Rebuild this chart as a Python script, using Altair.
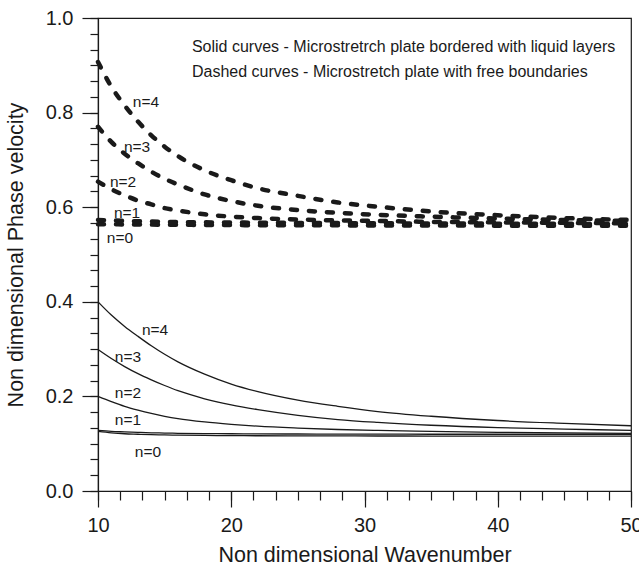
import altair as alt
import pandas as pd

# ---------------- data ----------------
wavenumber = [10, 11, 12, 13, 14, 15, 16, 18, 20, 22, 25, 28, 31, 35, 40, 45, 50]

# Dashed curves (free boundaries)
dashed_n0 = [0.564, 0.5638, 0.5636, 0.5634, 0.5632, 0.563, 0.5628, 0.5625, 0.5622, 0.562, 0.5618, 0.5616, 0.5614, 0.5612, 0.561, 0.5608, 0.5606]
dashed_n1 = [0.573, 0.572, 0.571, 0.5703, 0.5697, 0.569, 0.5686, 0.568, 0.5676, 0.5672, 0.5668, 0.5664, 0.566, 0.5656, 0.5652, 0.5648, 0.5644]
dashed_n2 = [0.654, 0.638, 0.625, 0.614, 0.606, 0.598, 0.593, 0.585, 0.580, 0.577, 0.574, 0.572, 0.571, 0.569, 0.568, 0.567, 0.566]
dashed_n3 = [0.770, 0.738, 0.713, 0.693, 0.675, 0.660, 0.648, 0.627, 0.613, 0.603, 0.594, 0.588, 0.584, 0.580, 0.576, 0.573, 0.571]
dashed_n4 = [0.907, 0.855, 0.815, 0.781, 0.752, 0.728, 0.708, 0.678, 0.657, 0.640, 0.624, 0.610, 0.601, 0.591, 0.583, 0.577, 0.573]

# Solid curves (bordered with liquid layers)
solid_n0 = [0.126, 0.123, 0.121, 0.120, 0.119, 0.1185, 0.118, 0.1175, 0.117, 0.1168, 0.1166, 0.1164, 0.1163, 0.1162, 0.1161, 0.116, 0.116]
solid_n1 = [0.128, 0.126, 0.125, 0.124, 0.123, 0.1225, 0.122, 0.1215, 0.121, 0.1207, 0.1205, 0.1203, 0.1202, 0.120, 0.120, 0.120, 0.120]
solid_n2 = [0.200, 0.189, 0.179, 0.171, 0.164, 0.158, 0.153, 0.146, 0.141, 0.137, 0.133, 0.130, 0.128, 0.126, 0.124, 0.123, 0.122]
solid_n3 = [0.299, 0.280, 0.263, 0.248, 0.235, 0.223, 0.212, 0.195, 0.182, 0.172, 0.160, 0.151, 0.145, 0.139, 0.134, 0.131, 0.128]
solid_n4 = [0.400, 0.372, 0.348, 0.327, 0.307, 0.289, 0.273, 0.247, 0.226, 0.210, 0.192, 0.179, 0.168, 0.158, 0.149, 0.143, 0.138]

mode_names = ["n=0", "n=1", "n=2", "n=3", "n=4"]

# curve labels
dashed_label_x = [11.65, 12.18, 11.88, 12.93, 13.6]
dashed_label_y = [0.535, 0.588, 0.653, 0.727, 0.822]
solid_label_x = [13.75, 12.25, 12.25, 12.25, 14.28]
solid_label_y = [0.082, 0.150, 0.207, 0.283, 0.340]

note_lines = [
    "Solid curves - Microstretrch plate bordered with liquid layers",
    "Dashed curves - Microstretch plate with free boundaries",
]
note_x = [17.05, 17.05]
note_y = [0.939, 0.886]

x_major = [10, 20, 30, 40, 50]
x_minor = [10 + i * 10 / 6 for i in range(25)]
y_major = [0.0, 0.2, 0.4, 0.6, 0.8, 1.0]
y_minor = [i / 30 for i in range(31)]

# ---------------- tables ----------------
def long_table(series):
    rows = []
    for name, vals in zip(mode_names, series):
        for k, v in zip(wavenumber, vals):
            rows.append({"k": k, "c": v, "n": name})
    return pd.DataFrame(rows)

dashed_df = long_table([dashed_n0, dashed_n1, dashed_n2, dashed_n3, dashed_n4])
solid_df = long_table([solid_n0, solid_n1, solid_n2, solid_n3, solid_n4])
labels_df = pd.DataFrame({
    "x": dashed_label_x + solid_label_x,
    "y": dashed_label_y + solid_label_y,
    "t": mode_names + mode_names,
})
note_df = pd.DataFrame({"x": note_x, "y": note_y, "t": note_lines})

FONT = "Liberation Sans"
INK = "#1a1a1a"
xs = alt.Scale(domain=[10, 50], nice=False, zero=False)
ys = alt.Scale(domain=[0, 1], nice=False, zero=False)

major_x_axis = alt.Axis(values=x_major, format="d", tickSize=16, labelPadding=8,
                        labelFontSize=20, titleFontSize=21.5, titlePadding=9,
                        labelFlush=False,
                        title="Non dimensional Wavenumber", grid=False, orient="bottom")
major_y_axis = alt.Axis(values=y_major, format=".1f", tickSize=16, labelPadding=9,
                        labelFontSize=20, titleFontSize=21.5, titlePadding=18,
                        labelFlush=False,
                        title="Non dimensional Phase velocity", grid=False, orient="left")
minor_x_axis = alt.Axis(values=x_minor, tickSize=9, labels=False, title=None,
                        domain=False, grid=False, orient="bottom")
minor_y_axis = alt.Axis(values=y_minor, tickSize=8, labels=False, title=None,
                        domain=False, grid=False, orient="left")

dashed_layer = alt.Chart(dashed_df).mark_line(
    color=INK, strokeWidth=4.5, strokeDash=[6, 12], strokeCap="round", interpolate="monotone"
).encode(
    x=alt.X("k:Q", scale=xs, axis=major_x_axis),
    y=alt.Y("c:Q", scale=ys, axis=major_y_axis),
    detail="n:N",
)

solid_layer = alt.Chart(solid_df).mark_line(
    color=INK, strokeWidth=1.3, interpolate="monotone"
).encode(
    x=alt.X("k:Q", scale=xs, axis=minor_x_axis),
    y=alt.Y("c:Q", scale=ys, axis=minor_y_axis),
    detail="n:N",
)

label_layer = alt.Chart(labels_df).mark_text(
    font=FONT, fontSize=15.5, color=INK, align="center", baseline="middle"
).encode(
    x=alt.X("x:Q", scale=xs, axis=None),
    y=alt.Y("y:Q", scale=ys, axis=None),
    text="t:N",
)

note_layer = alt.Chart(note_df).mark_text(
    font=FONT, fontSize=16, color=INK, align="left", baseline="middle"
).encode(
    x=alt.X("x:Q", scale=xs, axis=None),
    y=alt.Y("y:Q", scale=ys, axis=None),
    text="t:N",
)

chart = alt.layer(dashed_layer, solid_layer, label_layer, note_layer).resolve_scale(
    x="independent", y="independent"
).properties(
    width=533, height=473,
    autosize=alt.AutoSizeParams(type="none"),
    padding={"left": 98, "top": 18, "right": 8, "bottom": 75},
    background="white",
).configure_view(
    stroke=INK, strokeWidth=1.2
).configure_axis(
    domainColor=INK, tickColor=INK, labelColor=INK, titleColor=INK,
    labelFont=FONT, titleFont=FONT, titleFontWeight="normal",
    domainWidth=1.2, tickWidth=1.2,
)

chart.save("out.html", embed_options={"renderer": "svg", "actions": False})
